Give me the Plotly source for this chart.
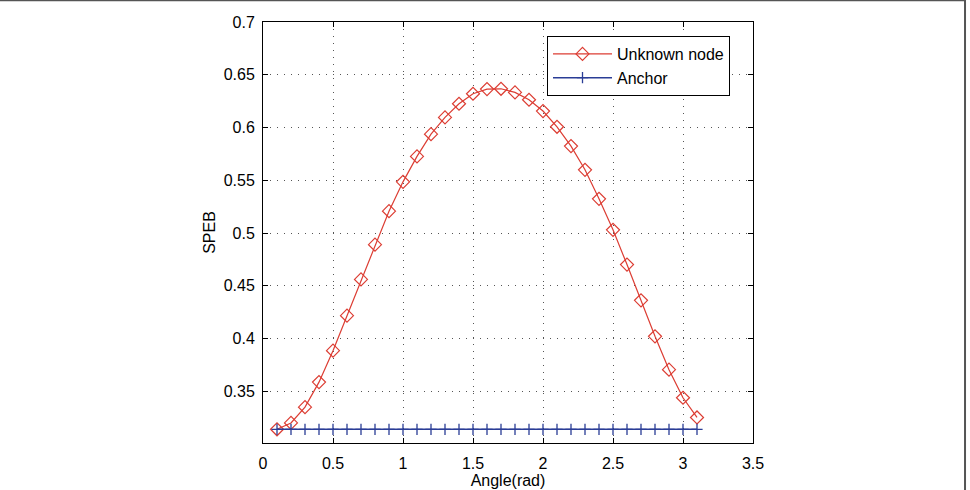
import plotly.graph_objects as go

angle = [0.1, 0.2, 0.3, 0.4, 0.5, 0.6, 0.7, 0.8, 0.9, 1.0,
         1.1, 1.2, 1.3, 1.4, 1.5, 1.6, 1.7, 1.8, 1.9, 2.0,
         2.1, 2.2, 2.3, 2.4, 2.5, 2.6, 2.7, 2.8, 2.9, 3.0, 3.1]
unknown_node = [0.314, 0.320, 0.335, 0.3587, 0.3885, 0.4217, 0.456, 0.489, 0.5207, 0.5485,
                0.5726, 0.5937, 0.6096, 0.6225, 0.632, 0.6364, 0.6367, 0.6333, 0.6263, 0.6156,
                0.6007, 0.5824, 0.5599, 0.5324, 0.503, 0.4701, 0.4362, 0.4021, 0.3705, 0.3439, 0.3252]
anchor = [0.314] * len(angle)

x_ticks = [0, 0.5, 1, 1.5, 2, 2.5, 3, 3.5]
x_tick_text = ["0", "0.5", "1", "1.5", "2", "2.5", "3", "3.5"]
y_ticks = [0.35, 0.4, 0.45, 0.5, 0.55, 0.6, 0.65, 0.7]
y_tick_text = ["0.35", "0.4", "0.45", "0.5", "0.55", "0.6", "0.65", "0.7"]

red = "#dc3d33"
blue = "#2a3d96"
font = "Liberation Sans, Arial, sans-serif"

fig = go.Figure()
fig.add_trace(go.Scatter(
    x=angle, y=unknown_node, name="Unknown node", mode="lines+markers",
    line=dict(color=red, width=1.2),
    marker=dict(symbol="diamond-open", size=10, color=red, line=dict(width=1.2, color=red)),
))
fig.add_trace(go.Scatter(
    x=angle, y=anchor, name="Anchor", mode="lines+markers",
    line=dict(color=blue, width=1.6),
    marker=dict(symbol="cross-thin-open", size=8, color=blue, line=dict(width=1.3, color=blue)),
))

axis_common = dict(
    showline=True, linecolor="black", linewidth=1, mirror="allticks",
    ticks="inside", ticklen=5, tickcolor="black", tickwidth=1,
    showgrid=True, gridcolor="#555555", gridwidth=1, griddash="1px,6px",
    zeroline=False, automargin=False,
    tickfont=dict(family=font, size=16, color="black"),
    title_font=dict(family=font, size=16, color="black"),
)

fig.update_xaxes(range=[0, 3.5], tickvals=x_ticks, ticktext=x_tick_text,
                 title_text="Angle(rad)", title_standoff=2, ticklabelstandoff=6, **axis_common)
fig.update_yaxes(range=[0.301, 0.7], tickvals=y_ticks, ticktext=y_tick_text,
                 title_text="SPEB", title_standoff=4, ticklabelstandoff=4, **axis_common)

fig.update_layout(
    width=970, height=490,
    margin=dict(l=263, r=217, t=22, b=47),
    paper_bgcolor="white", plot_bgcolor="white",
    font=dict(family=font, size=16, color="black"),
    showlegend=True,
    legend=dict(x=0.5796, y=0.9667, xanchor="left", yanchor="top",
                bordercolor="black", borderwidth=1, bgcolor="white",
                font=dict(family=font, size=16, color="black"),
                tracegroupgap=0, itemwidth=59),
    shapes=[dict(type="rect", xref="paper", yref="paper",
                 x0=-1.555, x1=1.4327, y0=-0.2, y1=1.0515,
                 line=dict(color="#555555", width=2), layer="below")],
)

fig.write_html("out.html")
